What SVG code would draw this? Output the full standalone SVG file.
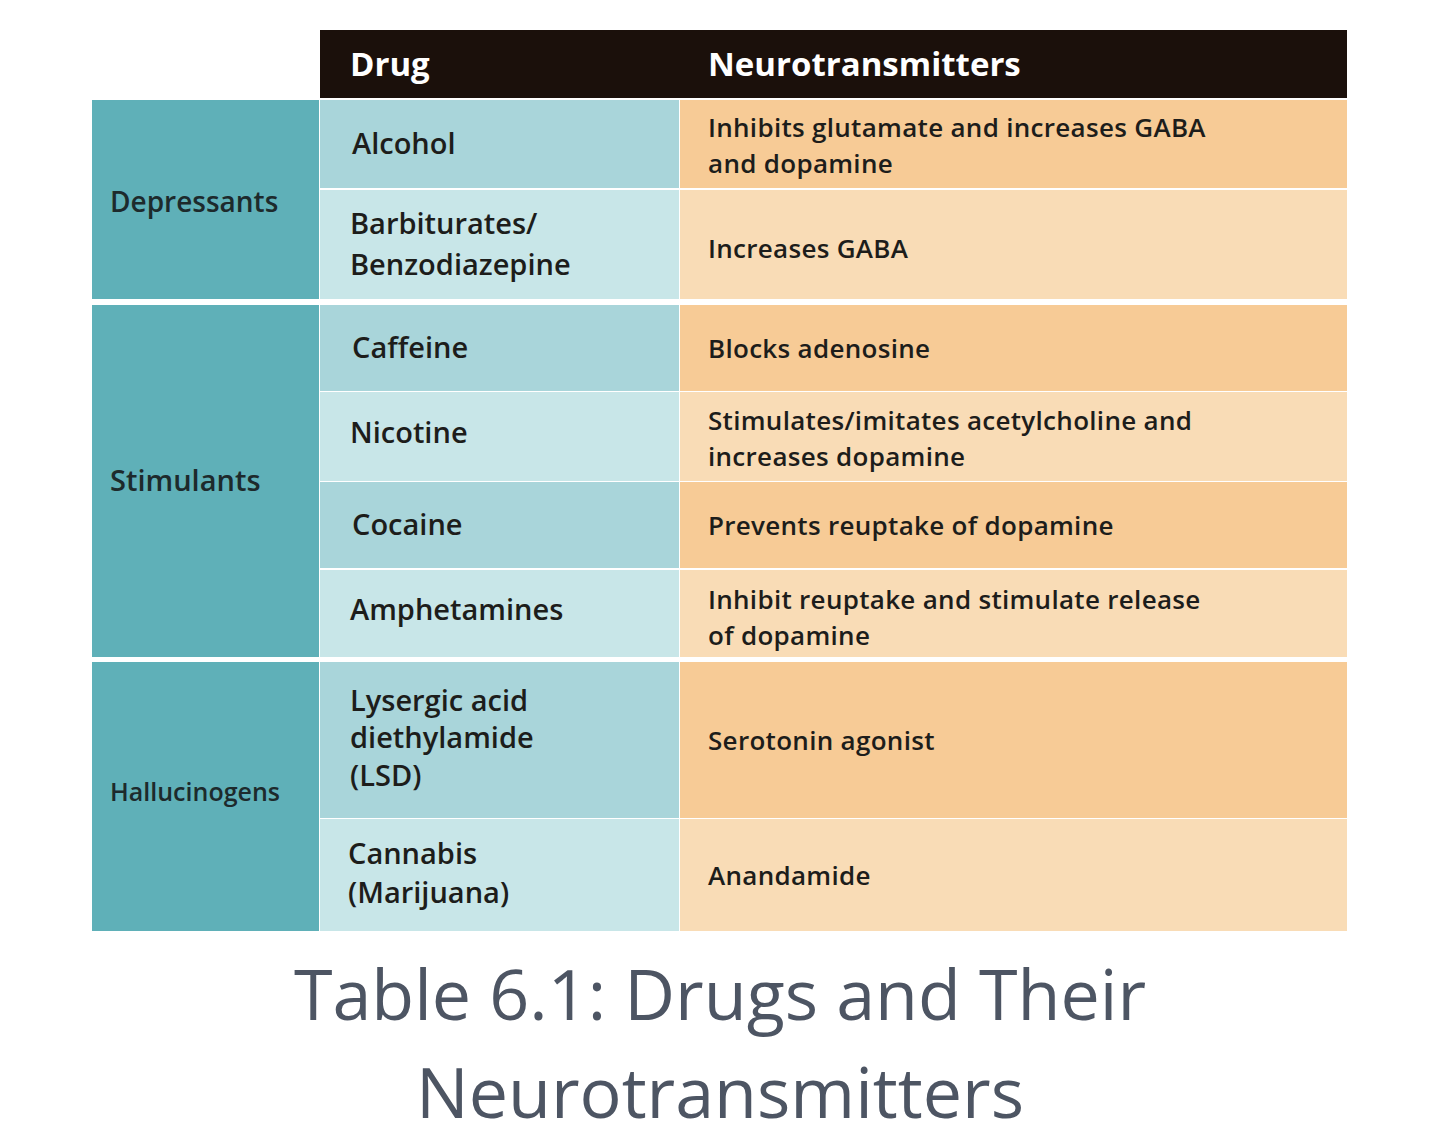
<svg xmlns="http://www.w3.org/2000/svg" width="1440" height="1143" viewBox="0 0 1440 1143">
<style>
.t{font-family:"Open Sans","Noto Sans",sans-serif;font-size:29px;fill:#1d1d1b;font-weight:600}
.n{font-size:26px;letter-spacing:0.3px}
.c{font-family:"Open Sans","Noto Sans",sans-serif;font-size:29px;fill:#1d2a2c;font-weight:600}
.h{font-family:"Open Sans","Noto Sans",sans-serif;font-size:33px;fill:#fff;font-weight:bold}
.cap{font-family:"Open Sans","Noto Sans",sans-serif;font-size:70px;fill:#4d5563}
.cat{fill:#5fb0b8}.d1{fill:#a9d5da}.d2{fill:#c8e6e8}.n1{fill:#f7cb96}.n2{fill:#f9dcb6}
</style>
<rect width="1440" height="1143" fill="#fff"/>
<g id="header"><rect x="320" y="30" width="1027" height="68" fill="#1b100b"/>
<text class="h" x="350" y="76">Drug</text><text class="h" x="708" y="76">Neurotransmitters</text></g>
<g id="categories">
<rect class="cat" x="92" y="100" width="227" height="199"/>
<rect class="cat" x="92" y="305" width="227" height="352"/>
<rect class="cat" x="92" y="662" width="227" height="269"/>
<text class="c" x="110" y="212" style="font-size:28px">Depressants</text>
<text class="c" x="110" y="491">Stimulants</text>
<text class="c" x="110" y="801" style="font-size:25px">Hallucinogens</text></g>
<g id="rows">
<rect class="d1" x="320" y="100" width="359" height="88"/><rect class="n1" x="680" y="100" width="667" height="88"/>
<rect class="d2" x="320" y="190" width="359" height="109"/><rect class="n2" x="680" y="190" width="667" height="109"/>
<rect class="d1" x="320" y="305" width="359" height="86"/><rect class="n1" x="680" y="305" width="667" height="86"/>
<rect class="d2" x="320" y="392" width="359" height="89"/><rect class="n2" x="680" y="392" width="667" height="89"/>
<rect class="d1" x="320" y="482" width="359" height="86"/><rect class="n1" x="680" y="482" width="667" height="86"/>
<rect class="d2" x="320" y="570" width="359" height="87"/><rect class="n2" x="680" y="570" width="667" height="87"/>
<rect class="d1" x="320" y="662" width="359" height="156"/><rect class="n1" x="680" y="662" width="667" height="156"/>
<rect class="d2" x="320" y="819" width="359" height="112"/><rect class="n2" x="680" y="819" width="667" height="112"/>
<text class="t" x="352" y="154">Alcohol</text>
<text class="t n" x="708" y="137">Inhibits glutamate and increases GABA</text>
<text class="t n" x="708" y="173">and dopamine</text>
<text class="t" x="350" y="234">Barbiturates/</text><text class="t" x="350" y="275">Benzodiazepine</text>
<text class="t n" x="708" y="258">Increases GABA</text>
<text class="t" x="352" y="358">Caffeine</text>
<text class="t n" x="708" y="358">Blocks adenosine</text>
<text class="t" x="350" y="443">Nicotine</text>
<text class="t n" x="708" y="430">Stimulates/imitates acetylcholine and</text>
<text class="t n" x="708" y="466">increases dopamine</text>
<text class="t" x="352" y="535">Cocaine</text>
<text class="t n" x="708" y="535">Prevents reuptake of dopamine</text>
<text class="t" x="350" y="620">Amphetamines</text>
<text class="t n" x="708" y="609">Inhibit reuptake and stimulate release</text>
<text class="t n" x="708" y="645">of dopamine</text>
<text class="t" x="350" y="711">Lysergic acid</text><text class="t" x="350" y="748">diethylamide</text><text class="t" x="350" y="786">(LSD)</text>
<text class="t n" x="708" y="750">Serotonin agonist</text>
<text class="t" x="348" y="864">Cannabis</text><text class="t" x="348" y="903">(Marijuana)</text>
<text class="t n" x="708" y="885">Anandamide</text></g>
<g id="caption"><text class="cap" x="720" y="1020" text-anchor="middle">Table 6.1: Drugs and Their</text>
<text class="cap" x="720" y="1118" text-anchor="middle">Neurotransmitters</text></g>
</svg>
